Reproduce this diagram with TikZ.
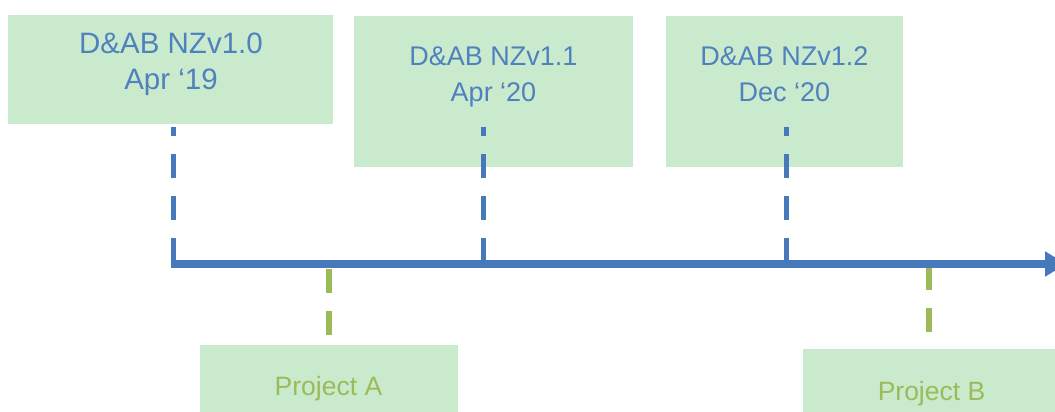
\documentclass[tikz,border=0pt]{standalone}
\usepackage{fontspec}
\setmainfont{Liberation Sans}
\usetikzlibrary{arrows.meta}
\definecolor{lineblue}{HTML}{4779BA}
\definecolor{textblue}{HTML}{4F81BD}
\definecolor{olivegreen}{HTML}{9BBB59}
\definecolor{boxfill}{HTML}{CAEACE}
\begin{document}
\begin{tikzpicture}[x=1pt,y=-1pt,
  panel/.style={rectangle, fill=boxfill, draw=none, inner sep=0pt, anchor=north west},
  firstlabel/.style={text=textblue, font=\fontsize{29.5}{36}\selectfont, anchor=base, inner sep=0pt},
  relabel/.style={text=textblue, font=\fontsize{27}{36}\selectfont, anchor=base, inner sep=0pt},
  projlabel/.style={text=olivegreen, font=\fontsize{26.5}{32}\selectfont, anchor=base, inner sep=0pt},
  reltick/.style={line width=5pt, draw=lineblue, dash pattern=on 24pt off 18pt},
  projtick/.style={line width=6pt, draw=olivegreen, dash pattern=on 24pt off 18pt},
  axis/.style={line width=8pt, draw=lineblue, -{Triangle[length=21pt,width=24pt]}}]
\useasboundingbox (0,0) rectangle (1055,412);

% release and project panels
\node[panel, minimum width=325pt, minimum height=109pt] (r1) at (8,15) {};
\node[panel, minimum width=279pt, minimum height=151pt] (r2) at (354,16) {};
\node[panel, minimum width=237pt, minimum height=151pt] (r3) at (666,16) {};
\node[panel, minimum width=258pt, minimum height=80pt] (pa) at (200,345) {};
\node[panel, minimum width=270pt, minimum height=80pt] (pb) at (803,349) {};

% points on the time axis and the ends of the ticks
\coordinate (t0) at (171,264);
\coordinate (tend) at (1066,264);
\coordinate (a1) at (173.5,262);
\coordinate (a2) at (483.7,262);
\coordinate (a3) at (786,262);
\coordinate (u1) at (173.5,127);
\coordinate (u2) at (483.7,127);
\coordinate (u3) at (786,127);
\coordinate (ga) at (329,269);
\coordinate (gae) at (329,336);
\coordinate (gb) at (929,266);
\coordinate (gbe) at (929,332);

% release ticks
\draw[reltick] (a1) -- (u1);
\draw[reltick] (a2) -- (u2);
\draw[reltick] (a3) -- (u3);

% project ticks
\draw[projtick] (ga) -- (gae);
\draw[projtick] (gb) -- (gbe);

% time axis
\draw[axis] (t0) -- (tend);

% labels
\node[firstlabel] (r1a) at (171,53.3) {D\&AB NZv1.0};
\node[firstlabel] (r1b) at (171,89.3) {Apr ‘19};
\node[relabel] (r2a) at (493.5,65.7) {D\&AB NZv1.1};
\node[relabel] (r2b) at (493.5,101.7) {Apr ‘20};
\node[relabel] (r3a) at (784.5,65.7) {D\&AB NZv1.2};
\node[relabel] (r3b) at (784.5,101.7) {Dec ‘20};
\node[projlabel] (pat) at (328.5,395.7) {Project A};
\node[projlabel] (pbt) at (931.5,400) {Project B};
\end{tikzpicture}
\end{document}
